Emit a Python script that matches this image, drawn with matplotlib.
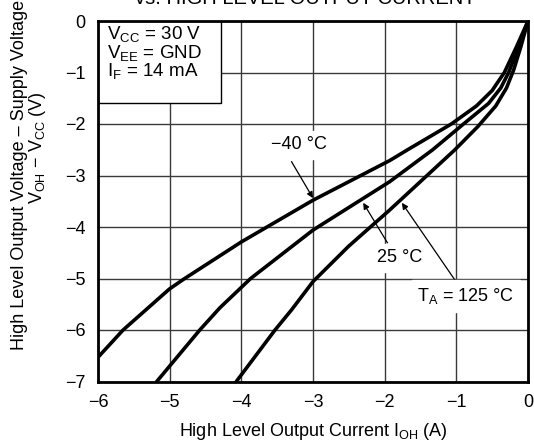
import matplotlib
matplotlib.use("Agg")
import matplotlib.pyplot as plt

plt.rcParams['font.family'] = ['Liberation Sans', 'DejaVu Sans']
plt.rcParams['mathtext.fontset'] = 'custom'
plt.rcParams['mathtext.rm'] = 'Liberation Sans'
plt.rcParams['axes.unicode_minus'] = True

# curves: output current (A) vs VOH - VCC (V)
i_m40 = [-6.0, -5.65, -5.0, -4.79, -4.0, -3.0, -1.93, -1.68, -1.07, -0.72, -0.5, -0.33, -0.16, 0.0]
v_m40 = [-6.53, -6.0, -5.2, -5.0, -4.29, -3.48, -2.71, -2.5, -2.0, -1.65, -1.35, -1.0, -0.5, 0.0]

i_25 = [-5.18, -4.58, -4.30, -3.87, -3.0, -1.93, -1.33, -0.9, -0.55, -0.38, -0.27, -0.13, 0.0]
v_25 = [-7.0, -6.0, -5.57, -5.0, -4.06, -3.12, -2.5, -2.0, -1.6, -1.3, -1.0, -0.5, 0.0]

i_125 = [-4.07, -3.53, -3.30, -3.0, -2.5, -1.93, -1.02, -0.7, -0.45, -0.3, -0.2, -0.1, 0.0]
v_125 = [-7.0, -6.0, -5.61, -5.06, -4.37, -3.67, -2.5, -2.05, -1.65, -1.3, -0.95, -0.5, 0.0]

xticks = [-6, -5, -4, -3, -2, -1, 0]
yticks = [0, -1, -2, -3, -4, -5, -6, -7]

fig = plt.figure(figsize=(5.34, 4.47), dpi=100)
ax = fig.add_axes([98 / 534, 1 - 381.5 / 447, 430 / 534, 360.5 / 447])

ax.set_xlim(-6, 0)
ax.set_ylim(-7, 0)
ax.set_xticks(xticks)
ax.set_yticks(yticks)
ax.set_xticklabels(['\u2212' + str(-t) if t < 0 else str(t) for t in xticks])
ax.set_yticklabels(['\u2212' + str(-t) if t < 0 else str(t) for t in yticks])
ax.tick_params(length=0, labelsize=13, pad=9)
ax.grid(True, color='#3a3a3a', linewidth=1.0)
ax.set_axisbelow(True)
for s in ax.spines.values():
    s.set_linewidth(2.0)
    s.set_zorder(5)

for xx, yy in [(i_m40, v_m40), (i_25, v_25), (i_125, v_125)]:
    ax.plot(xx, yy, color='black', linewidth=2.6, solid_joinstyle='round',
            solid_capstyle='round', zorder=3)

# conditions box
ax.add_patch(plt.Rectangle((-6, -1.6), 1.72, 1.6, facecolor='white', edgecolor='black',
                           linewidth=1.0, zorder=4))
ax.text(-5.88, -0.27, r'V$_{\mathrm{CC}}$ = 30 V', fontsize=13.5, va='center', zorder=6)
ax.text(-5.88, -0.63, r'V$_{\mathrm{EE}}$ = GND', fontsize=13.5, va='center', zorder=6)
ax.text(-5.88, -0.99, r'I$_{\mathrm{F}}$ = 14 mA', fontsize=13.5, va='center', zorder=6)

arrow = dict(arrowstyle='-|>', color='black', linewidth=0.9, mutation_scale=9, shrinkA=0, shrinkB=0)
ax.annotate('', xy=(-3.0, -3.44), xytext=(-3.30, -2.73), arrowprops=arrow)
ax.text(-3.2, -2.4, '\u221240 \u00b0C', fontsize=13, ha='center', va='center',
        backgroundcolor='white', zorder=6)
ax.annotate('', xy=(-2.30, -3.53), xytext=(-1.96, -4.31), arrowprops=arrow)
ax.text(-1.79, -4.6, '25 \u00b0C', fontsize=13, ha='center', va='center',
        backgroundcolor='white', zorder=6)
ax.annotate('', xy=(-1.76, -3.53), xytext=(-0.99, -5.09), arrowprops=arrow)
ax.text(-0.87, -5.34, 'T$_{\\mathrm{A}}$ = 125 \u00b0C', fontsize=13,
        ha='center', va='center', backgroundcolor='white', zorder=6)

ax.set_xlabel(r'High Level Output Current I$_{\mathrm{OH}}$ (A)', fontsize=13, labelpad=7)

fig.text(20 / 534, 1 - 175 / 447, 'High Level Output Voltage \u2013 Supply Voltage',
         rotation=90, fontsize=13, ha='center', va='center')
fig.text(38 / 534, 1 - 148 / 447, 'V$_{\\mathrm{OH}}$ \u2212 V$_{\\mathrm{CC}}$ (V)',
         rotation=90, fontsize=13, ha='center', va='center')

# title, cut off at the top edge in the original
fig.text(305 / 534, 1 - 4 / 447, 'vs. HIGH LEVEL OUTPUT CURRENT', fontsize=14.5,
         ha='center', va='baseline')

fig.savefig('out.png', dpi=100)
